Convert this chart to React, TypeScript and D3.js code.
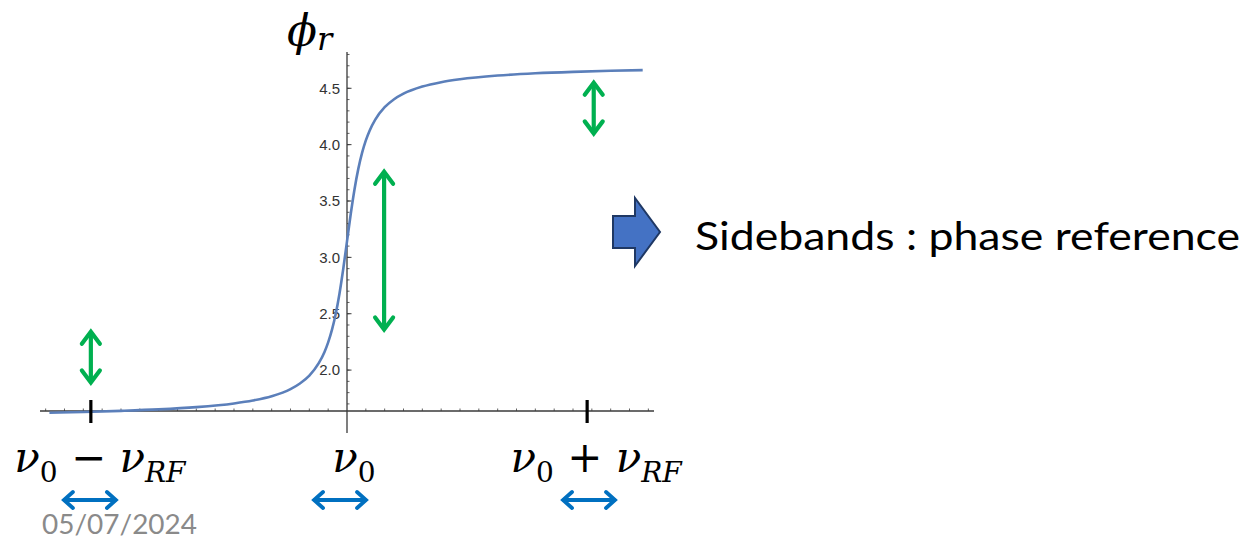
import React from 'react';
import * as d3 from 'd3';

// Curve points (x in axis units where ν0 = 0, φr values)
const curveX = [-15.8, -14, -12, -10, -8, -6, -5, -4, -3, -2.5, -2, -1.5, -1.2, -1, -0.8, -0.6, -0.4, -0.2, 0, 0.2, 0.4, 0.6, 0.8, 1, 1.2, 1.5, 2, 2.5, 3, 4, 5, 6, 8, 10, 12, 14, 15.7];
const curveY = [1.621, 1.628, 1.638, 1.651, 1.671, 1.704, 1.73, 1.768, 1.831, 1.881, 1.951, 2.061, 2.159, 2.246, 2.356, 2.498, 2.678, 2.897, 3.142, 3.387, 3.605, 3.785, 3.927, 4.038, 4.124, 4.222, 4.332, 4.403, 4.452, 4.515, 4.554, 4.58, 4.613, 4.633, 4.646, 4.655, 4.661];

const yTickValues = [2.0, 2.5, 3.0, 3.5, 4.0, 4.5];
const yTickLabels = ['2.0', '2.5', '3.0', '3.5', '4.0', '4.5'];
const yMinorTicks = d3.range(17, 49).map((d) => d / 10);
const xMinorTicks = d3.range(-16, 17).filter((d) => d !== 0);

const markerValues = [-13.6, 12.75];
const labelValues = [-13.6, 0, 12.75];
const labelOp = [' − ', '', ' + '];

const greenArrowX = [-13.6, 1.97, 13.1];
const greenArrowLow = [1.89, 2.36, 4.1];
const greenArrowHigh = [2.34, 3.76, 4.55];

const blueArrowX = [-13.65, -0.37, 12.85];

const sideText = 'Sidebands : phase reference';
const dateText = '05/07/2024';

const W = 1256;
const H = 541;

export default function App() {
  const x = d3.scaleLinear().domain([-16.3, 16.3]).range([40, 654]);
  const y = d3.scaleLinear().domain([1.637, 4.822]).range([411, 52]);
  const pts: [number, number][] = curveX.map((v, i) => [v, curveY[i]]);
  const line = d3
    .line<[number, number]>()
    .x((d) => x(d[0]))
    .y((d) => y(d[1]))
    .curve(d3.curveMonotoneX);

  const axisColor = '#3a3a3a';
  const green = '#00B050';
  const blue = '#0070C0';
  const mathFont = "'DejaVu Serif', 'Liberation Serif', serif";

  return (
    <div style={{ position: 'absolute', left: 0, top: 0 }}>
      <svg width={W} height={H} style={{ display: 'block', background: '#fff' }}>
        {/* y-axis */}
        <line x1={x(0)} x2={x(0)} y1={y(4.822)} y2={433} stroke={axisColor} strokeWidth={1.3} />
        {yMinorTicks.map((t) => (
          <line key={'ym' + t} x1={x(0)} x2={x(0) + 2.5} y1={y(t)} y2={y(t)} stroke={axisColor} strokeWidth={0.8} />
        ))}
        {yTickValues.map((t, i) => (
          <g key={'yt' + t}>
            <line x1={x(0)} x2={x(0) + 4.5} y1={y(t)} y2={y(t)} stroke={axisColor} strokeWidth={1} />
            <text
              x={x(0) - 7}
              y={y(t)}
              dy="0.35em"
              textAnchor="end"
              fontFamily="'Liberation Sans', Arial, sans-serif"
              fontSize={15}
              fill="#333"
            >
              {yTickLabels[i]}
            </text>
          </g>
        ))}
        {/* x-axis */}
        <line x1={x(-16.3)} x2={x(16.3)} y1={y(1.637)} y2={y(1.637)} stroke={axisColor} strokeWidth={1.3} />
        {xMinorTicks.map((t) => (
          <line key={'xm' + t} x1={x(t)} x2={x(t)} y1={y(1.637) - 2.5} y2={y(1.637)} stroke={axisColor} strokeWidth={0.8} />
        ))}
        {/* curve */}
        <path d={line(pts) || ''} fill="none" stroke="#5B7FBA" strokeWidth={2.6} />
        {/* big black markers */}
        {markerValues.map((m) => (
          <line key={'mk' + m} x1={x(m)} x2={x(m)} y1={y(1.637) - 11} y2={y(1.637) + 12} stroke="#000" strokeWidth={3.2} />
        ))}
        {/* phi_r label */}
        <text x={287} y={46} fontFamily={mathFont} fontStyle="italic" fontSize={44} fill="#000">
          ϕ<tspan fontSize={32} dy={4}>r</tspan>
        </text>
        {/* frequency labels */}
        {labelValues.map((v, i) => {
          const isCenter = labelOp[i] === '';
          return (
            <text
              key={'lb' + i}
              x={x(v) + (isCenter ? 7 : 9)}
              y={472}
              textAnchor="middle"
              fontFamily={mathFont}
              fontSize={42}
              fill="#000"
            >
              <tspan fontStyle="italic">ν</tspan>
              <tspan fontSize={28} dy={10}>0</tspan>
              {!isCenter && (
                <>
                  <tspan dy={-10}>{labelOp[i]}</tspan>
                  <tspan fontStyle="italic">ν</tspan>
                  <tspan fontStyle="italic" fontSize={28} dy={10}>RF</tspan>
                </>
              )}
            </text>
          );
        })}
        {/* green double arrows */}
        {greenArrowX.map((gx, i) => {
          const cx = x(gx);
          const top = y(greenArrowHigh[i]);
          const bot = y(greenArrowLow[i]);
          return (
            <g key={'ga' + i} stroke={green} strokeWidth={4.2} fill="none" strokeLinecap="round" strokeLinejoin="miter">
              <line x1={cx} x2={cx} y1={top + 1} y2={bot - 1} />
              <polyline points={`${cx - 9},${top + 12} ${cx},${top} ${cx + 9},${top + 12}`} />
              <polyline points={`${cx - 9},${bot - 12} ${cx},${bot} ${cx + 9},${bot - 12}`} />
            </g>
          );
        })}
        {/* blue double arrows */}
        {blueArrowX.map((bx, i) => {
          const cx = x(bx);
          const l = cx - 26;
          const r = cx + 26;
          const yy = 500;
          return (
            <g key={'ba' + i} stroke={blue} strokeWidth={3.8} fill="none" strokeLinecap="round">
              <line x1={l + 1} x2={r - 1} y1={yy} y2={yy} />
              <polyline points={`${l + 9},${yy - 8} ${l},${yy} ${l + 9},${yy + 8}`} />
              <polyline points={`${r - 9},${yy - 8} ${r},${yy} ${r - 9},${yy + 8}`} />
            </g>
          );
        })}
        {/* block arrow */}
        <path
          d="M613,216 L635,216 L635,198 L660,232 L635,266 L635,248 L613,248 Z"
          fill="#4472C4"
          stroke="#1F3864"
          strokeWidth={2}
          strokeLinejoin="miter"
        />
        {/* side text */}
        <text
          x={695}
          y={250}
          fontFamily="Lato, 'Open Sans', sans-serif"
          fontSize={38}
          fill="#000"
          textLength={545}
          lengthAdjust="spacingAndGlyphs"
        >
          {sideText}
        </text>
        {/* date */}
        <text
          x={42}
          y={534}
          fontFamily="Lato, 'Open Sans', sans-serif"
          fontSize={26}
          fill="#8a8a8a"
          textLength={155}
          lengthAdjust="spacingAndGlyphs"
        >
          {dateText}
        </text>
      </svg>
    </div>
  );
}
